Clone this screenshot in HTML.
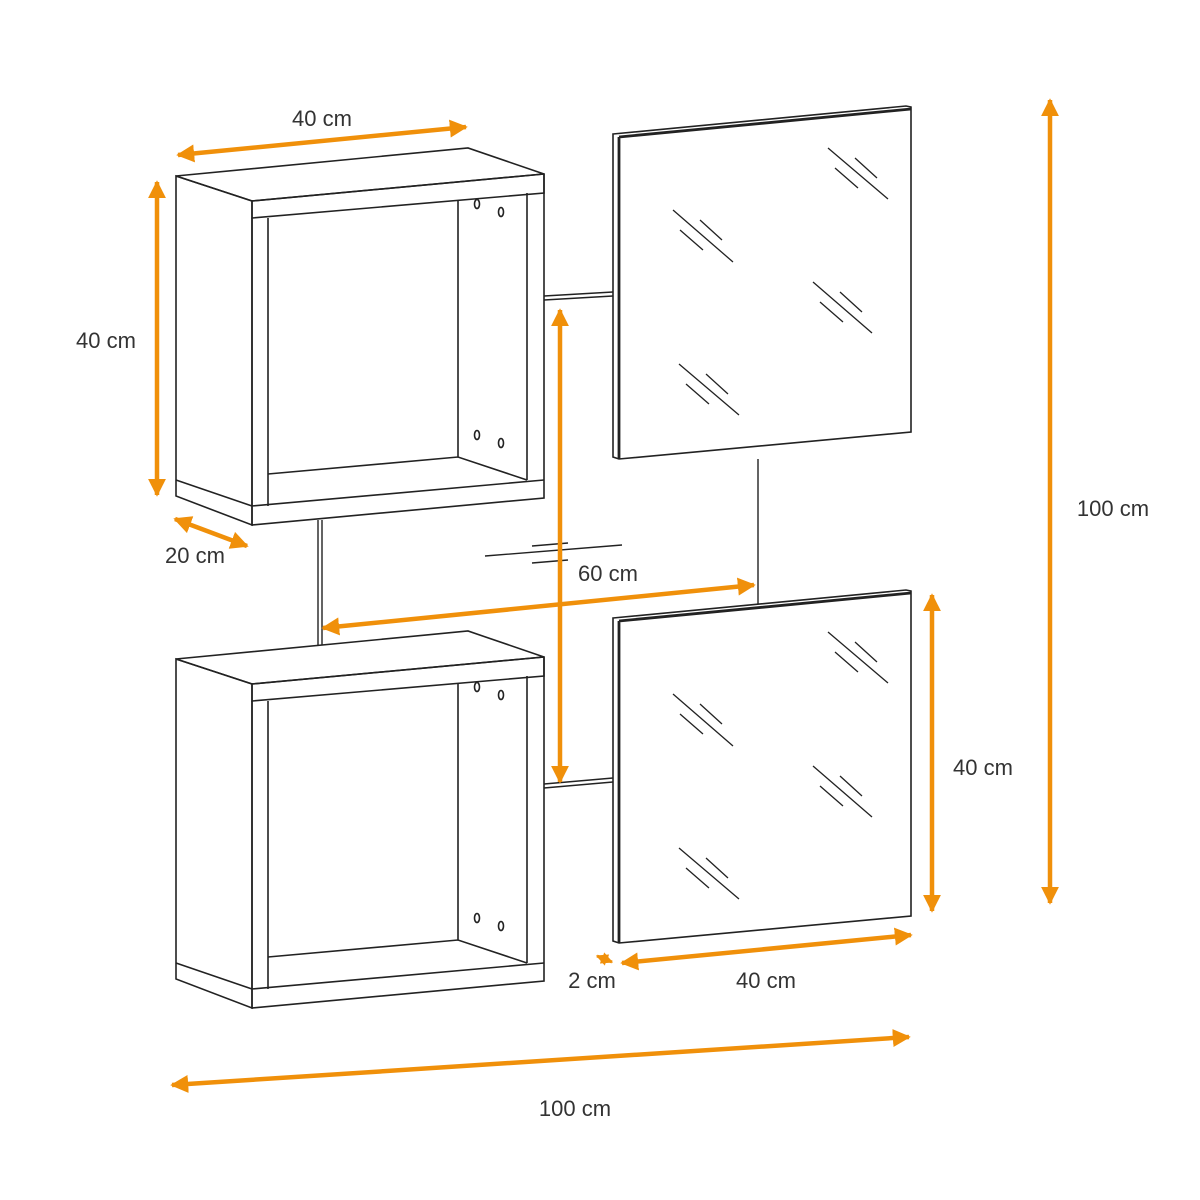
<!DOCTYPE html>
<html><head><style>body{margin:0;background:#fff}svg{display:block}text{font-family:"Liberation Sans",sans-serif;font-size:22px;fill:#333}</style></head><body>
<svg width="1200" height="1200" viewBox="0 0 1200 1200">
<defs>
<marker id="a" markerWidth="4" markerHeight="4" refX="3.6" refY="2" orient="auto-start-reverse" markerUnits="strokeWidth"><path d="M0,0 L4,2 L0,4 z" fill="#f0900a"/></marker>
<g id="cube" fill="none" stroke="#222" stroke-width="1.6">
<path d="M176,176 L468,148 L544,174 L252,201 Z" fill="#fff"/>
<path d="M252,201 L544,174 L544,193 L252,218 Z"/>
<path d="M176,176 L176,496 L252,525 L252,201 Z"/>
<path d="M176,480 L252,506"/>
<path d="M252,218 L252,525 L544,498 L544,174"/>
<path d="M268,218 L268,506 M252,506 L544,480"/>
<path d="M268,474 L458,457 L527,480 M458,457 L458,200 M527,193 L527,480"/>
<ellipse cx="477" cy="204" rx="2.5" ry="4.5"/><ellipse cx="501" cy="212" rx="2.5" ry="4.5"/>
<ellipse cx="477" cy="435" rx="2.5" ry="4.5"/><ellipse cx="501" cy="443" rx="2.5" ry="4.5"/>
</g>
<g id="mirror" fill="none" stroke="#222" stroke-width="1.6">
<path d="M613,134 L906,106 L911,107 L911,432 L619,459 L613,457 Z" fill="#fff"/>
<path d="M619,137 L911,109 M619,137 L619,459" stroke-width="2.8"/>
<g stroke-width="1.3">
<path d="M673,210 L733,262 M680,230 L703,250 M700,220 L722,240"/>
<path d="M828,148 L888,199 M835,168 L858,188 M855,158 L877,178"/>
<path d="M813,282 L872,333 M820,302 L843,322 M840,292 L862,312"/>
<path d="M679,364 L739,415 M686,384 L709,404 M706,374 L728,394"/>
</g>
</g>
</defs>
<g fill="none" stroke="#222" stroke-width="1.4">
<path d="M318,520 L318,645 M322,520 L322,645"/>
<path d="M758,459 L758,605"/>
<path d="M544,296 L613,292 M544,300 L613,296"/>
<path d="M544,784 L613,778 M544,788 L613,782"/>
<path d="M485,556 L622,545 M532,546 L568,543 M532,563 L568,560"/>
</g>
<use href="#cube"/>
<use href="#cube" transform="translate(0,483)"/>
<use href="#mirror"/>
<use href="#mirror" transform="translate(0,484)"/>
<g stroke="#f0900a" stroke-width="4.5" marker-start="url(#a)" marker-end="url(#a)" fill="none">
<line x1="178" y1="155" x2="466" y2="127"/>
<line x1="157" y1="182" x2="157" y2="495"/>
<line x1="175" y1="519" x2="247" y2="546"/>
<line x1="323" y1="628" x2="754" y2="585"/>
<line x1="560" y1="310" x2="560" y2="782"/>
<line x1="1050" y1="100" x2="1050" y2="903"/>
<line x1="932" y1="595" x2="932" y2="911"/>
<line x1="622" y1="963" x2="911" y2="935"/>
<line x1="597" y1="956" x2="612" y2="962" stroke-width="3"/>
<line x1="172" y1="1085" x2="909" y2="1037"/>
</g>
<text x="322" y="126" text-anchor="middle">40 cm</text>
<text x="106" y="348" text-anchor="middle">40 cm</text>
<text x="195" y="563" text-anchor="middle">20 cm</text>
<text x="608" y="581" text-anchor="middle">60 cm</text>
<text x="1113" y="516" text-anchor="middle">100 cm</text>
<text x="983" y="775" text-anchor="middle">40 cm</text>
<text x="766" y="988" text-anchor="middle">40 cm</text>
<text x="592" y="988" text-anchor="middle">2 cm</text>
<text x="575" y="1116" text-anchor="middle">100 cm</text>
</svg>
</body></html>
